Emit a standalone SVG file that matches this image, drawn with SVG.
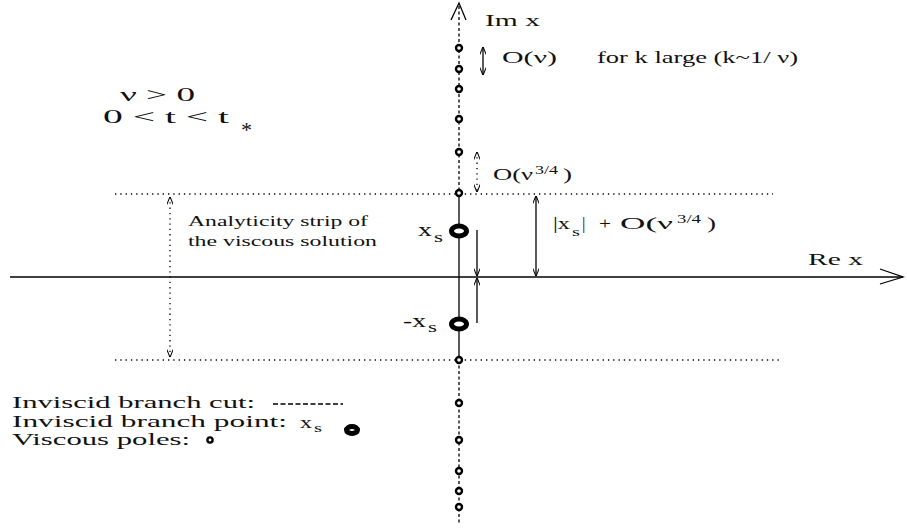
<svg xmlns="http://www.w3.org/2000/svg" width="907" height="529" viewBox="0 0 907 529">
<style>
text{font-family:"Liberation Serif","Times New Roman",serif;fill:#111}
.dot{stroke:#000;stroke-width:1.3;stroke-dasharray:1.3 4;fill:none}
.dash{stroke:#000;stroke-width:1.3;stroke-dasharray:3 2.5;fill:none}
.ldash{stroke:#000;stroke-width:1.6;stroke-dasharray:5 2.5;fill:none}
.solid{stroke:#000;stroke-width:1.3;fill:none}
.pole{fill:#fff;stroke:#000;stroke-width:2.4}
.bp{fill:#fff;stroke:#000;stroke-width:5}
</style>
<defs>
<marker id="ah" viewBox="0 0 10 8" refX="9.5" refY="4" markerWidth="8" markerHeight="6.4" markerUnits="userSpaceOnUse" orient="auto-start-reverse">
<path d="M0,0 L10,4 L0,8" fill="none" stroke="#000" stroke-width="1.3"/>
</marker>
</defs>
<rect width="907" height="529" fill="#fff"/>
<g id="connectors">
<line class="solid" x1="10" y1="277" x2="903" y2="277"/>
<path class="solid" d="M880,269 L903,277 L880,284"/>
<line class="dash" x1="459" y1="6" x2="459" y2="194"/>
<line class="solid" x1="459" y1="194" x2="459" y2="356"/>
<line class="dash" x1="459" y1="360" x2="459" y2="524"/>
<path class="solid" d="M451,20 L459,3 L466,20"/>
<line class="dot" x1="115" y1="194" x2="773" y2="194"/>
<line class="dot" x1="115" y1="360" x2="782" y2="360"/>
<line class="dot" x1="170" y1="197" x2="170" y2="357" marker-start="url(#ah)" marker-end="url(#ah)"/>
<line class="solid" x1="483" y1="47" x2="483" y2="75" marker-start="url(#ah)" marker-end="url(#ah)"/>
<line class="dot" x1="477" y1="152" x2="477" y2="192" marker-start="url(#ah)" marker-end="url(#ah)"/>
<line class="solid" x1="536" y1="196" x2="536" y2="276" marker-start="url(#ah)" marker-end="url(#ah)"/>
<line class="solid" x1="477" y1="230" x2="477" y2="276" marker-end="url(#ah)"/>
<line class="solid" x1="477" y1="323" x2="477" y2="278" marker-end="url(#ah)"/>
</g>
<g id="poles">
<circle class="pole" cx="459" cy="48" r="3"/>
<circle class="pole" cx="459" cy="69" r="3"/>
<circle class="pole" cx="459" cy="89" r="3"/>
<circle class="pole" cx="459" cy="119" r="3"/>
<circle class="pole" cx="459" cy="152" r="3"/>
<circle class="pole" cx="459" cy="193" r="3"/>
<circle class="pole" cx="459" cy="360" r="3"/>
<circle class="pole" cx="459" cy="403" r="3"/>
<circle class="pole" cx="459" cy="440" r="3"/>
<circle class="pole" cx="459" cy="471" r="3"/>
<circle class="pole" cx="459" cy="491" r="3"/>
<circle class="pole" cx="459" cy="507" r="3"/>
</g>
<g id="branch-point-xs">
<ellipse class="bp" cx="459" cy="231" rx="7.5" ry="5"/>
<text x="418" y="236" font-size="19" textLength="14" lengthAdjust="spacingAndGlyphs">x</text>
<text x="434" y="242" font-size="14" textLength="9" lengthAdjust="spacingAndGlyphs">s</text>
</g>
<g id="branch-point-minus-xs">
<ellipse class="bp" cx="459" cy="324" rx="7.5" ry="5"/>
<text x="403" y="327" font-size="19" textLength="23" lengthAdjust="spacingAndGlyphs">-x</text>
<text x="428" y="332" font-size="14" textLength="9" lengthAdjust="spacingAndGlyphs">s</text>
</g>
<g id="labels">
<text x="485" y="26" font-size="17" textLength="55" lengthAdjust="spacingAndGlyphs">Im x</text>
<text x="502" y="63" font-size="17" textLength="55" lengthAdjust="spacingAndGlyphs">O(ν)</text>
<text x="597" y="63" font-size="17" textLength="201" lengthAdjust="spacingAndGlyphs">for k large (k~1/ ν)</text>
<text x="120" y="101" font-size="19" textLength="75" lengthAdjust="spacingAndGlyphs">ν &gt; 0</text>
<text x="103" y="123" font-size="19" textLength="126" lengthAdjust="spacingAndGlyphs">0 &lt; t &lt; t</text>
<text x="241" y="137" font-size="21" textLength="11" lengthAdjust="spacingAndGlyphs">*</text>
<text x="493" y="180" font-size="17" textLength="40" lengthAdjust="spacingAndGlyphs">O(ν</text>
<text x="535" y="174" font-size="12" textLength="23" lengthAdjust="spacingAndGlyphs">3/4</text>
<text x="563" y="180" font-size="17" textLength="9" lengthAdjust="spacingAndGlyphs">)</text>
<text x="553" y="229" font-size="17" textLength="17" lengthAdjust="spacingAndGlyphs">|x</text>
<text x="572" y="236" font-size="12" textLength="8" lengthAdjust="spacingAndGlyphs">s</text>
<text x="582" y="229" font-size="17">|</text>
<text x="599" y="229" font-size="17" textLength="12" lengthAdjust="spacingAndGlyphs">+</text>
<text x="620" y="229" font-size="17" textLength="53" lengthAdjust="spacingAndGlyphs">O(ν</text>
<text x="677" y="223" font-size="12" textLength="24" lengthAdjust="spacingAndGlyphs">3/4</text>
<text x="707" y="229" font-size="17" textLength="9" lengthAdjust="spacingAndGlyphs">)</text>
<text x="188" y="226" font-size="15" textLength="180" lengthAdjust="spacingAndGlyphs">Analyticity strip of</text>
<text x="188" y="246" font-size="15" textLength="189" lengthAdjust="spacingAndGlyphs">the viscous solution</text>
<text x="808" y="265" font-size="17" textLength="55" lengthAdjust="spacingAndGlyphs">Re x</text>
</g>
<g id="legend">
<text x="12" y="408" font-size="16" textLength="243" lengthAdjust="spacingAndGlyphs">Inviscid branch cut:</text>
<line class="ldash" x1="273" y1="404" x2="343" y2="404"/>
<text x="12" y="427" font-size="16" textLength="275" lengthAdjust="spacingAndGlyphs">Inviscid branch point:</text>
<text x="300" y="428" font-size="17" textLength="12" lengthAdjust="spacingAndGlyphs">x</text>
<text x="314" y="432" font-size="12" textLength="8" lengthAdjust="spacingAndGlyphs">s</text>
<ellipse class="bp" cx="352" cy="430" rx="5.5" ry="3.5"/>
<text x="12" y="445" font-size="16" textLength="178" lengthAdjust="spacingAndGlyphs">Viscous poles:</text>
<circle class="pole" cx="210" cy="440" r="2.6"/>
</g>
</svg>
